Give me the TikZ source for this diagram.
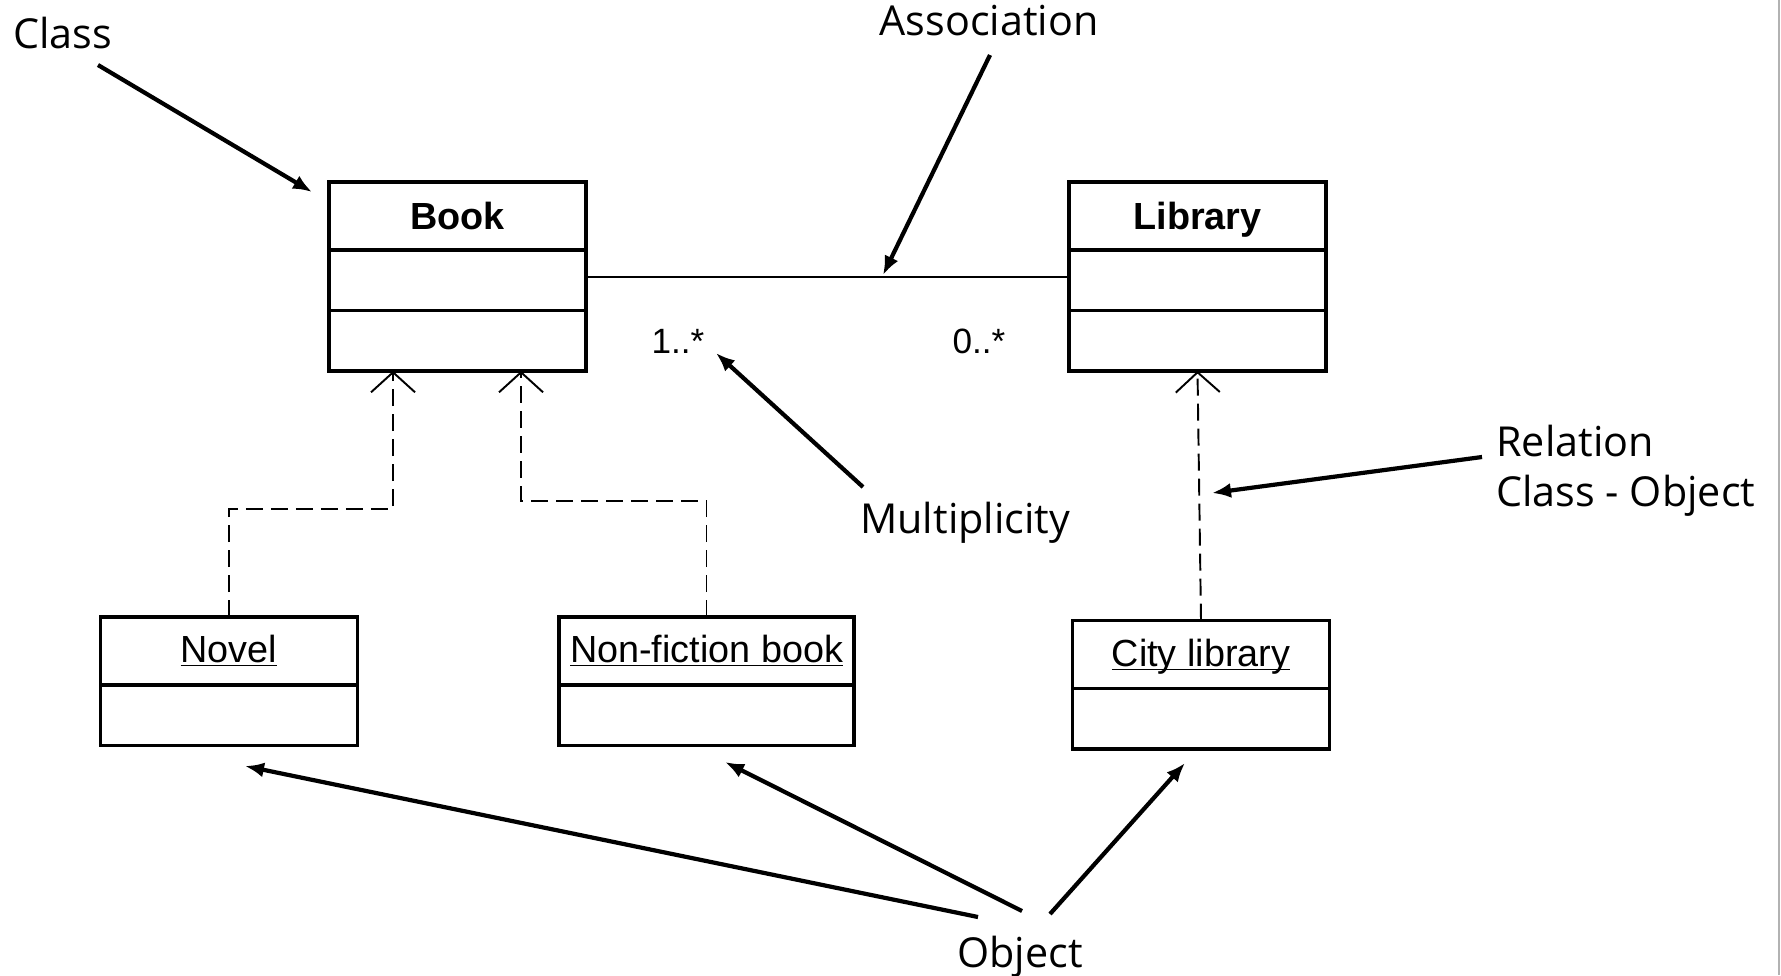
\documentclass[tikz,border=0pt]{standalone}
\usepackage{fontspec}
\setmainfont{Open Sans}
\newfontfamily\umlfont{Liberation Sans}
\usetikzlibrary{arrows.meta,positioning,calc}
\newcommand{\objname}[1]{\underline{\raisebox{0pt}[\height][0pt]{#1}}}
\tikzset{x=0.02cm, y=-0.02cm, % One unit is one pixel of the drawing, y grows downwards
        umlbox/.style={ % Sets the properties for each compartment
            draw,
            line width=1.9pt,
            outer sep=0pt, inner sep=0pt, % Compartments share their borders
            minimum width=5.14cm,
            font=\umlfont\fontsize{21.5}{26}\selectfont},
        classhead/.style={umlbox, minimum height=1.36cm, text depth=0pt,
            font=\umlfont\bfseries\fontsize{21.5}{26}\selectfont},
        objhead/.style={umlbox, minimum height=1.36cm},
        part/.style={umlbox, minimum height=1.21cm},
        note/.style={font=\fontsize{23.5}{28.5}\selectfont, inner sep=0pt}, % Annotation texts
        multi/.style={font=\umlfont\fontsize{20}{24}\selectfont, inner sep=0pt},
        pointer/.style={ % Annotation arrows with bold heads
            draw,
            line width=2.4pt,
            -{Latex[length=0.38cm,width=0.3cm]}},
        realize/.style={ % Dashed line from an object to its class
            draw,
            line width=1.1pt,
            dash pattern=on 0.34cm off 0.16cm,
            -{Straight Barb[length=0.4cm,width=0.88cm]}}
        }

\begin{document}
\begin{tikzpicture}
    \useasboundingbox (0,0) rectangle (1781,975);
    \draw[gray!60, line width=1.2pt] (1779,0) -- (1779,975);

    % classes
    \node[classhead] (book) at (457.5,216) {Book};
    \node[part, below=0pt of book] (book-attr) {};
    \node[part, below=0pt of book-attr] (book-ops) {};
    \node[classhead] (library) at (1197.5,216) {Library};
    \node[part, below=0pt of library] (library-attr) {};
    \node[part, below=0pt of library-attr] (library-ops) {};

    % objects
    \node[objhead] (novel) at (229,651) {\objname{Novel}};
    \node[part, below=0pt of novel] (novel-attr) {};
    \node[objhead, minimum width=5.9cm] (nonfiction) at (706.5,651) {\objname{Non-fiction book}};
    \node[part, minimum width=5.9cm, below=0pt of nonfiction] (nonfiction-attr) {};
    \node[objhead] (city) at (1201,654.5) {\objname{City library}};
    \node[part, below=0pt of city] (city-attr) {};

    % association and multiplicities
    \draw[line width=1.1pt] ($(book-attr.east)+(0,-3.5)$) -- ($(library-attr.west)+(0,-3.5)$);
    \node[multi, anchor=base] (mult-book) at (678,353) {1..*};
    \node[multi, anchor=base] (mult-library) at (979,353) {0..*};

    % object to class
    \coordinate (book-in1) at ($(book-ops.south west)+(64,0)$);
    \coordinate (book-in2) at ($(book-ops.south west)+(192,0)$);
    \draw[realize] (novel.north) |- ($(book-in1)+(0,138)$) -- (book-in1);
    \draw[realize] (nonfiction.north) |- ($(book-in2)+(0,130)$) -- (book-in2);
    \draw[realize] (city.north) -- (library-ops.south);

    % annotations
    \node[note, anchor=base west] (class-lbl) at (13,48) {Class};
    \node[note, anchor=base] (assoc-lbl) at (989,35) {Association};
    \node[note, anchor=base west] (mult-lbl) at (860,533) {Multiplicity};
    \node[note, anchor=north west, align=left] (rel-lbl) at (1496,425) {Relation\\Class - Object};
    \node[note, anchor=base] (obj-lbl) at (1020,967) {Object};

    \coordinate (class-from) at (98,65);
    \coordinate (class-to) at (312,192);
    \coordinate (assoc-from) at (990,55);
    \coordinate (assoc-to) at (883,275);
    \coordinate (mult-from) at (863,487);
    \coordinate (mult-to) at (716,353);
    \coordinate (rel-from) at (1482,457);
    \coordinate (rel-to) at (1212,493);
    \coordinate (obj-from1) at (978,917);
    \coordinate (obj-from2) at (1022,911);
    \coordinate (obj-from3) at (1050,914);
    \coordinate (novel-to) at (245,766);
    \coordinate (nonfiction-to) at (725,762);
    \coordinate (city-to) at (1185,763);

    \draw[pointer] (class-from) -- (class-to);
    \draw[pointer] (assoc-from) -- (assoc-to);
    \draw[pointer] (mult-from) -- (mult-to);
    \draw[pointer] (rel-from) -- (rel-to);
    \draw[pointer] (obj-from1) -- (novel-to);
    \draw[pointer] (obj-from2) -- (nonfiction-to);
    \draw[pointer] (obj-from3) -- (city-to);
\end{tikzpicture}
\end{document}
